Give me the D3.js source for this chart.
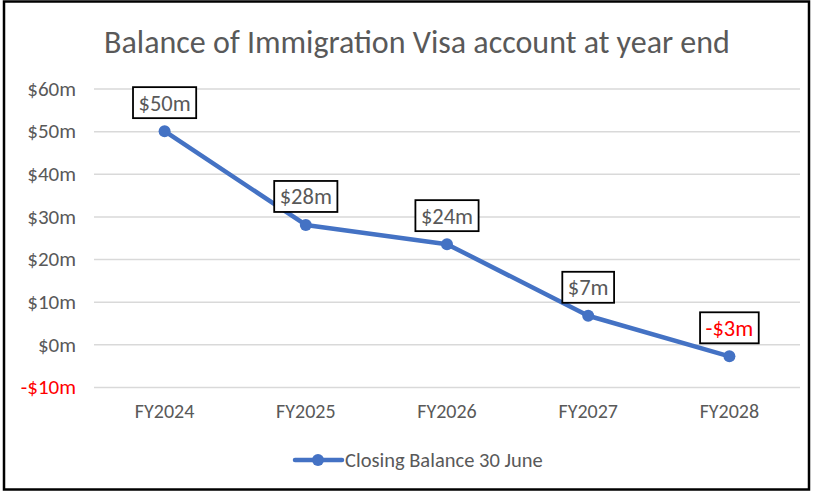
<!DOCTYPE html>
<html><head><meta charset="utf-8">
<script src="https://cdn.jsdelivr.net/npm/d3@7"></script>
<style>body{margin:0;background:#fff}svg{display:block}</style>
</head><body>
<svg id="chart" width="813" height="492"></svg>
<script>
const categories = ["FY2024","FY2025","FY2026","FY2027","FY2028"];
const values = [50, 28, 23.5, 6.7, -2.8];
const dataLabels = ["$50m","$28m","$24m","$7m","-$3m"];
const yTicks = [-10, 0, 10, 20, 30, 40, 50, 60];
const seriesName = "Closing Balance 30 June";

const font = "Calibri, Carlito, 'Open Sans', sans-serif";
const svg = d3.select("#chart");
svg.append("rect").attr("x",4).attr("y",1.5).attr("width",805).attr("height",488)
  .attr("fill","#fff").attr("stroke","#000").attr("stroke-width",2.5);

const x = d3.scaleBand().domain(categories).range([94, 800]);
const y = d3.scaleLinear().domain([-10, 60]).range([387, 88.5]);

svg.append("text").attr("x",417).attr("y",53).attr("text-anchor","middle")
  .attr("font-family",font).attr("font-size",32).attr("fill","#595959")
  .text("Balance of Immigration Visa account at year end");

const yAxis = d3.axisLeft(y).tickValues(yTicks).tickSize(-(800-94)).tickPadding(18)
  .tickFormat(d => d < 0 ? "-$" + Math.abs(d) + "m" : "$" + d + "m");
const gy = svg.append("g").attr("transform","translate(94,0)").call(yAxis);
gy.select(".domain").remove();
gy.selectAll(".tick line").attr("stroke","#d9d9d9").attr("stroke-width",1.5);
gy.selectAll(".tick text").attr("font-family",font).attr("font-size",21)
  .attr("fill", d => d < 0 ? "#ff0000" : "#595959");

const xAxis = d3.axisBottom(x).tickSize(0).tickPadding(0);
const gx = svg.append("g").attr("transform","translate(0,404)").call(xAxis);
gx.select(".domain").remove();
gx.selectAll(".tick text").attr("font-family",font).attr("font-size",20).attr("fill","#595959");

const cx = (d,i) => x(categories[i]) + x.bandwidth()/2;
const line = d3.line().x((d,i)=>cx(d,i)).y(d=>y(d));
svg.append("path").datum(values).attr("d",line).attr("fill","none")
  .attr("stroke","#4472c4").attr("stroke-width",4.5).attr("stroke-linejoin","round");
svg.selectAll("circle.pt").data(values).enter().append("circle")
  .attr("cx",(d,i)=>cx(d,i)).attr("cy",d=>y(d)).attr("r",6).attr("fill","#4472c4");

const lab = svg.selectAll("g.lab").data(values).enter().append("g");
lab.each(function(d,i){
  const g = d3.select(this);
  const t = g.append("text").attr("x",cx(d,i)).attr("y",y(d)-20.5)
    .attr("text-anchor","middle").attr("font-family",font).attr("font-size",22.5)
    .attr("fill", d < 0 ? "#ff0000" : "#595959").text(dataLabels[i]);
  const bb = t.node().getBBox();
  g.insert("rect","text").attr("x",bb.x-5.5).attr("y",y(d)-44).attr("width",bb.width+11).attr("height",31)
    .attr("fill","#fff").attr("stroke","#000").attr("stroke-width",1.8);
});

const lg = svg.append("g");
lg.append("line").attr("x1",295).attr("x2",342).attr("y1",460).attr("y2",460)
  .attr("stroke","#4472c4").attr("stroke-width",4.5).attr("stroke-linecap","round");
lg.append("circle").attr("cx",318).attr("cy",460).attr("r",6).attr("fill","#4472c4");
lg.append("text").attr("x",345).attr("y",467).attr("font-family",font).attr("font-size",20.5)
  .attr("fill","#595959").text(seriesName);
</script>
</body></html>
